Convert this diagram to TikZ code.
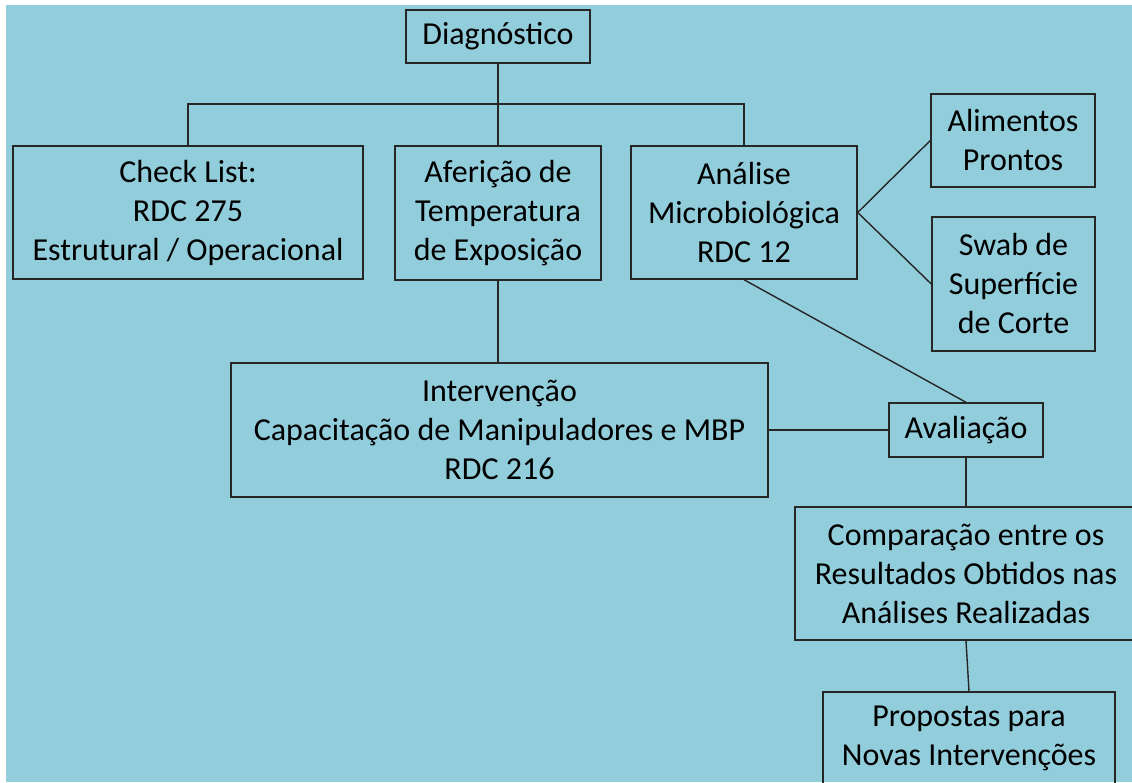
\documentclass[tikz,border=0pt]{standalone}
\usepackage{fontspec}
\setmainfont{Carlito}
\definecolor{fundo}{HTML}{92CDDC}
\begin{document}
\begin{tikzpicture}[x=1pt,y=-1pt,
    caixa/.style={draw=black!85,line width=1.4pt,align=center,inner sep=0pt,font=\fontsize{32}{39}\selectfont},
    liga/.style={black!85,line width=1.4pt}]
    \useasboundingbox (0,0) rectangle (1132,782);
    \fill [white] (0,0) rectangle (1132,782);
    \fill [fundo] (6,5) rectangle (1132,782);

    \node [caixa,minimum width=184pt,minimum height=53pt] (diag) at (498,36.5) {Diagnóstico};
    \node [caixa,minimum width=350pt,minimum height=133pt] (check) at (188,212.5) {Check List:\\RDC 275\\Estrutural / Operacional};
    \node [caixa,minimum width=206pt,minimum height=134pt] (aferic) at (498,213) {Aferição de\\Temperatura\\de Exposição};
    \node [caixa,minimum width=226pt,minimum height=133pt] (analise) at (744,212.5) {Análise\\Microbiológica\\RDC 12};
    \node [caixa,minimum width=164pt,minimum height=93pt] (alim) at (1013,140.5) {Alimentos\\Prontos};
    \node [caixa,minimum width=163pt,minimum height=134pt] (swab) at (1013.5,284) {Swab de\\Superfície\\de Corte};
    \node [caixa,minimum width=537pt,minimum height=134pt] (interv) at (499.5,430) {Intervenção\\Capacitação de Manipuladores e MBP\\RDC 216};
    \node [caixa,minimum width=154pt,minimum height=54pt] (aval) at (966,430) {Avaliação};
    \node [caixa,minimum width=342pt,minimum height=133pt] (compar) at (966,573.5) {Comparação entre os\\Resultados Obtidos nas\\Análises Realizadas};
    \node [caixa,minimum width=292pt,minimum height=93pt] (propost) at (969,738.5) {Propostas para\\Novas Intervenções};

    \coordinate (bus) at (498,104);
    \draw [liga] (diag.south) -- (aferic.north);
    \draw [liga] (check.north) |- (bus) -| (analise.north);
    \draw [liga] (analise.east) -- (alim.west);
    \draw [liga] (analise.east) -- (swab.west);
    \draw [liga] (aferic.south) -- (aferic.south |- interv.north);
    \draw [liga] (analise.south) -- (aval.north);
    \draw [liga] (interv.east) -- (aval.west);
    \draw [liga] (aval.south) -- (compar.north);
    \draw [liga] (compar.south) -- (propost.north);
\end{tikzpicture}
\end{document}
